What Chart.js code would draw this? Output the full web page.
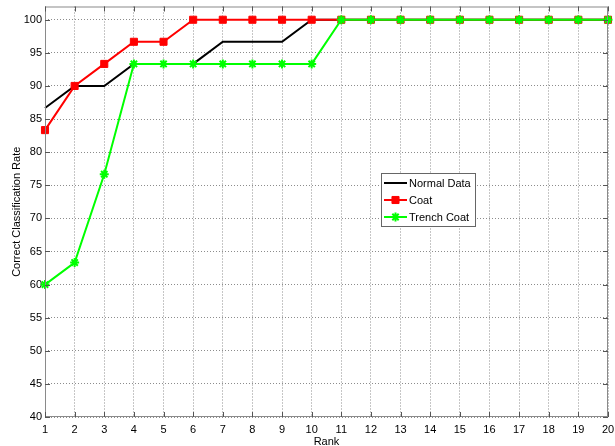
<!DOCTYPE html>
<html><head><meta charset="utf-8">
<script src="https://cdn.jsdelivr.net/npm/chart.js@4"></script>
<style>html,body{margin:0;padding:0;background:#fff}#wrap{width:615px;height:446px}</style>
</head><body><div id="wrap"><canvas id="c" width="615" height="446"></canvas></div>
<script>
const ranks = [1,2,3,4,5,6,7,8,9,10,11,12,13,14,15,16,17,18,19,20];
const normalData = [86.67,90,90,93.33,93.33,93.33,96.67,96.67,96.67,100,100,100,100,100,100,100,100,100,100,100];
const coat = [83.33,90,93.33,96.67,96.67,100,100,100,100,100,100,100,100,100,100,100,100,100,100,100];
const trenchCoat = [60,63.33,76.67,93.33,93.33,93.33,93.33,93.33,93.33,93.33,100,100,100,100,100,100,100,100,100,100];
const seriesNames = ['Normal Data','Coat','Trench Coat'];
const yTicks = [40,45,50,55,60,65,70,75,80,85,90,95,100];

const FONT = '"Liberation Sans", Arial, sans-serif';

const framePlugin = {
  id:'frame',
  afterDraw(chart){
    const {ctx, chartArea:a, scales:{x,y}} = chart;
    ctx.save();
    ctx.setLineDash([]);
    ctx.strokeStyle = '#8a8a8a';
    ctx.lineWidth = 1;
    ctx.strokeRect(a.left+0.5, a.top+0.5, a.right-a.left-1, a.bottom-a.top-1);
    ctx.strokeStyle = '#555';
    ctx.beginPath();
    const L = 5;
    ranks.forEach((r,i)=>{
      const px = Math.round(x.getPixelForValue(i))+0.5;
      ctx.moveTo(px,a.bottom); ctx.lineTo(px,a.bottom-L);
      ctx.moveTo(px,a.top); ctx.lineTo(px,a.top+L);
    });
    yTicks.forEach(v=>{
      const py = Math.round(y.getPixelForValue(v))+0.5;
      ctx.moveTo(a.left,py); ctx.lineTo(a.left+L,py);
      ctx.moveTo(a.right,py); ctx.lineTo(a.right-L,py);
    });
    ctx.stroke();
    // legend
    const bx=381, by=173, bw=94, bh=53;
    ctx.fillStyle='#fff';
    ctx.fillRect(bx,by,bw,bh);
    ctx.strokeStyle='#666';
    ctx.strokeRect(bx+0.5,by+0.5,bw,bh);
    const rows=[183,200,217];
    chart.data.datasets.forEach((ds,i)=>{
      const yy=rows[i];
      ctx.strokeStyle=ds.borderColor; ctx.lineWidth=2;
      ctx.beginPath(); ctx.moveTo(384,yy); ctx.lineTo(407,yy); ctx.stroke();
      if(ds.pointRadius>0){
        ctx.fillStyle=ds.pointBackgroundColor; ctx.strokeStyle=ds.pointBorderColor;
        ctx.lineWidth=ds.pointBorderWidth||1;
        Chart.helpers.drawPoint(ctx,{pointStyle:ds.pointStyle,radius:ds.pointRadius,borderWidth:ds.pointBorderWidth||1},395.5,yy);
      }
      ctx.fillStyle='#000';
      ctx.font='11px '+FONT;
      ctx.textBaseline='middle'; ctx.textAlign='left';
      ctx.fillText(ds.label,409,yy+0.5);
    });
    ctx.restore();
  }
};

const dsBase = {fill:false,tension:0,borderWidth:2};
new Chart(document.getElementById('c'),{
  type:'line',
  data:{labels:ranks,datasets:[
    {...dsBase,label:seriesNames[0],data:normalData,borderColor:'#000000',backgroundColor:'#000000',pointRadius:0,order:3},
    {...dsBase,label:seriesNames[1],data:coat,borderColor:'#ff0000',backgroundColor:'#ff0000',pointBackgroundColor:'#ff0000',pointBorderColor:'#ff0000',pointStyle:'rect',pointRadius:5,pointBorderWidth:1,order:2},
    {...dsBase,label:seriesNames[2],data:trenchCoat,borderColor:'#00ff00',backgroundColor:'#00ff00',pointBackgroundColor:'#00ff00',pointBorderColor:'#00ff00',pointStyle:'star',pointRadius:4.5,pointBorderWidth:2,order:1}
  ]},
  options:{
    responsive:false,animation:false,devicePixelRatio:1,
    layout:{padding:{left:0,right:7,top:5,bottom:0}},
    plugins:{legend:{display:false},tooltip:{enabled:false},title:{display:false}},
    scales:{
      x:{type:'category',offset:false,
        grid:{color:'rgba(0,0,0,0.45)',drawTicks:false},
        border:{display:false,dash:[1,2]},
        ticks:{color:'#000',font:{family:FONT,size:11},padding:6,maxRotation:0,autoSkip:false},
        title:{display:true,text:'Rank',color:'#000',font:{family:FONT,size:11,lineHeight:0.8},padding:{top:0,bottom:0}},
        afterFit(s){s.height=29;s.paddingLeft=0;s.paddingRight=0;}
      },
      y:{type:'linear',min:40,max:102,
        afterBuildTicks(s){s.ticks=yTicks.map(v=>({value:v}));},
        grid:{color:'rgba(0,0,0,0.45)',drawTicks:false},
        border:{display:false,dash:[1,2]},
        ticks:{color:'#000',font:{family:FONT,size:11},padding:3},
        title:{display:true,text:'Correct Classification Rate',color:'#000',font:{family:FONT,size:11},padding:{top:10,bottom:0}},
        afterFit(s){s.width=45;s.paddingTop=0;s.paddingBottom=0;}
      }
    }
  },
  plugins:[framePlugin]
});
</script></body></html>
